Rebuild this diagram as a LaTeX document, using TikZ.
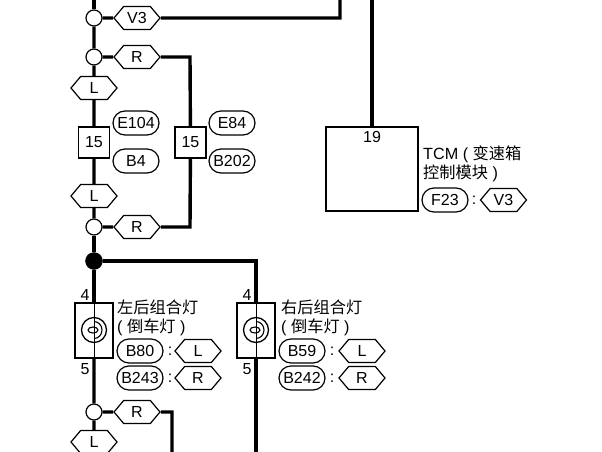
\documentclass[tikz,border=0pt]{standalone}
\usepackage{fontspec}
\setmainfont{Liberation Sans}
\newfontfamily\cjk{Noto Sans CJK SC}
\usetikzlibrary{calc, shapes.symbols, positioning}
\tikzset{
    wire/.style = {black, line width=3.4pt},
    thinwire/.style = {black, line width=0.9pt},
    labeltext/.style = {font=\fontsize{16}{18}\selectfont},
    textnode/.style = {draw=none, fill=none, rectangle, inner sep=0pt, node distance=0pt, labeltext},
    sidetext/.style = {textnode, anchor=west, font=\fontsize{16.2}{18}\selectfont},
    hexnode/.style = {draw, fill=white, signal, signal from=nowhere, signal to=east and west, signal pointer angle=100,
      line width=1.2pt, inner sep=0pt, minimum width=46pt, minimum height=23pt, node distance=0pt, labeltext},
    pillnode/.style = {draw, fill=white, rectangle, rounded corners=12pt, line width=1.2pt, inner sep=0pt,
      minimum width=46pt, minimum height=24pt, node distance=0pt, labeltext},
    boxnode/.style = {draw, fill=white, rectangle, line width=1.5pt, inner sep=0pt, node distance=0pt, labeltext},
    circlenode/.style = {draw, fill=white, circle, line width=1.2pt, inner sep=0pt, minimum size=16pt, node distance=0pt},
    dotnode/.style = {draw, fill=black, circle, inner sep=0pt, minimum size=17pt, node distance=0pt},
    lampnode/.style = {draw, circle, line width=1.3pt, inner sep=0pt, minimum size=25pt, node distance=0pt}
}
% filament drawn inside a lamp circle
\newcommand{\filament}[1]{
    \draw [line width=1.1pt] ($(#1)+(-1pt,0)$) ellipse (5pt and 3pt);
    \draw [line width=1.1pt] ($(#1)+(0,8.5pt)$) arc (90:-90:8pt and 8.5pt);
}
\begin{document}
\begin{tikzpicture}[x=1pt, y=1pt]
    \useasboundingbox (0,0) rectangle (602,-452);

    % left branch
    \coordinate (top1) at (94,0);
    \node [name=jv3, circlenode] at (94,-18) {};
    \node [name=hexv3, hexnode, right of=jv3, xshift=43pt] {V3};
    \coordinate (turnv3) at (340,-18);
    \coordinate (endv3) at (340,0);
    \node [name=jr1, circlenode, below of=jv3, yshift=-39pt] {};
    \node [name=hexr1, hexnode, right of=jr1, xshift=43pt] {R};
    \coordinate (turnr1) at (190,-57);
    \node [name=hexl1, hexnode, below of=jr1, yshift=-31pt] {L};
    \node [name=conn1, boxnode, minimum width=31pt, minimum height=31pt, below of=hexl1, yshift=-54.5pt] {15};
    \node [name=e104, pillnode, right of=conn1, xshift=42pt, yshift=19.5pt] {E104};
    \node [name=b4, pillnode, right of=conn1, xshift=42pt, yshift=-18.5pt] {B4};
    \node [name=hexl2, hexnode, below of=conn1, yshift=-53.5pt] {L};
    \node [name=jr2, circlenode, below of=hexl2, yshift=-31pt] {};
    \node [name=hexr2, hexnode, right of=jr2, xshift=43pt] {R};
    \coordinate (turnr2) at (190,-227);

    % splice
    \node [name=conn2, boxnode, minimum width=31pt, minimum height=31pt] at (190.5,-142.5) {15};
    \node [name=e84, pillnode, right of=conn2, xshift=41.5pt, yshift=19.5pt] {E84};
    \node [name=b202, pillnode, right of=conn2, xshift=41.5pt, yshift=-18.5pt] {B202};

    \draw [wire] (top1) -- (jv3);
    \draw [wire] (jv3) -- (hexv3) -- (turnv3) -- (endv3);
    \draw [wire] (jv3) -- (jr1) -- (hexl1) -- (conn1) -- (hexl2) -- (jr2);
    \draw [wire] (jr1) -- (hexr1);
    \draw [wire] (hexr1) -- (turnr1) -- (conn2);
    \draw [wire] (conn2) -- (turnr2) -- (hexr2) -- (jr2);

    % TCM
    \coordinate (top2) at (372,0);
    \node [name=tcm, boxnode, minimum width=92pt, minimum height=84pt] at (372,-169) {};
    \node [name=pin19, textnode, below of=tcm, yshift=32pt] {19};
    \node [name=tcmtext1, sidetext] at (423,-154) {TCM ( {\cjk 变速箱}};
    \node [name=tcmtext2, sidetext] at (423,-173) {{\cjk 控制模块} )};
    \node [name=f23, pillnode] at (445,-200) {F23};
    \node [name=colon0, textnode, right of=f23, xshift=29pt] {:};
    \node [name=hexv3b, hexnode] at (503.5,-200) {V3};
    \draw [wire] (top2) -- (tcm);

    % splice to lamps
    \node [name=dot1, dotnode, below of=jr2, yshift=-34pt] {};
    \coordinate (turnd) at (256,-261);
    \node [name=lampbox1, boxnode, minimum width=38pt, minimum height=55pt] at (94,-330.5) {};
    \node [name=lampbox2, boxnode, minimum width=38pt, minimum height=55pt] at (256,-330.5) {};
    \node [name=lamp1, lampnode] at (94,-330) {};
    \node [name=lamp2, lampnode] at (256,-330) {};
    \filament{lamp1}
    \filament{lamp2}
    \draw [thinwire] (lampbox1.north) -- (lampbox1.south);
    \draw [thinwire] (lampbox2.north) -- (lampbox2.south);
    \node [name=pin4a, textnode] at (85,-295) {4};
    \node [name=pin5a, textnode] at (85,-369) {5};
    \node [name=pin4b, textnode] at (247,-295) {4};
    \node [name=pin5b, textnode] at (247,-369) {5};

    \node [name=lamptext1a, sidetext] at (117,-307) {\cjk 左后组合灯};
    \node [name=lamptext1b, sidetext] at (117,-327) {( {\cjk 倒车灯} )};
    \node [name=b80, pillnode] at (140,-351) {B80};
    \node [name=b243, pillnode, below of=b80, yshift=-27pt] {B243};
    \node [name=colon1, textnode, right of=b80, xshift=30pt] {:};
    \node [name=colon2, textnode, right of=b243, xshift=30pt] {:};
    \node [name=hexl3, hexnode, right of=b80, xshift=58pt] {L};
    \node [name=hexr3, hexnode, right of=b243, xshift=58pt] {R};

    \node [name=lamptext2a, sidetext] at (281,-307) {\cjk 右后组合灯};
    \node [name=lamptext2b, sidetext] at (281,-327) {( {\cjk 倒车灯} )};
    \node [name=b59, pillnode] at (302,-351) {B59};
    \node [name=b242, pillnode, below of=b59, yshift=-27pt] {B242};
    \node [name=colon3, textnode, right of=b59, xshift=30pt] {:};
    \node [name=colon4, textnode, right of=b242, xshift=30pt] {:};
    \node [name=hexl4, hexnode, right of=b59, xshift=60pt] {L};
    \node [name=hexr4, hexnode, right of=b242, xshift=60pt] {R};

    % bottom
    \node [name=jr3, circlenode] at (94,-412) {};
    \node [name=hexr5, hexnode, right of=jr3, xshift=43pt] {R};
    \coordinate (turnr3) at (172,-412);
    \coordinate (endr3) at (172,-452);
    \node [name=hexl5, hexnode, below of=jr3, yshift=-30pt] {L};
    \coordinate (endl5) at (94,-452);
    \coordinate (endd) at (256,-452);

    \draw [wire] (jr2) -- (dot1) -- (lampbox1);
    \draw [wire] (dot1) -- (turnd) -- (lampbox2);
    \draw [wire] (lampbox1) -- (jr3) -- (hexl5) -- (endl5);
    \draw [wire] (jr3) -- (hexr5);
    \draw [wire] (hexr5) -- (turnr3) -- (endr3);
    \draw [wire] (lampbox2) -- (endd);
\end{tikzpicture}
\end{document}
